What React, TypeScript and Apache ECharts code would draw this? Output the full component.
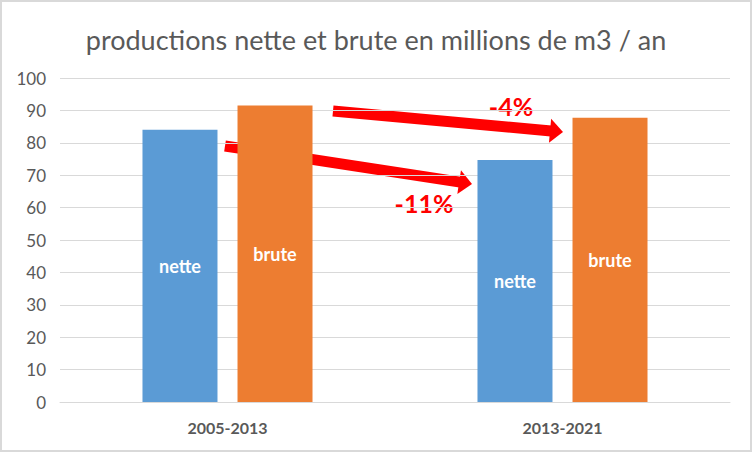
import React, { useEffect, useRef } from 'react';
import * as echarts from 'echarts';

const categories = ['2005-2013', '2013-2021'];
const netteValues = [84, 74.7];
const bruteValues = [91.5, 87.7];
const seriesNames = ['nette', 'brute'];
const changeLabels = ['-4%', '-11%'];

const FONT = "Lato, 'Liberation Sans', sans-serif";
const GREY = '#595959';
const RED = '#ff0000';

// red arrow: thick shaft line + triangular head, tip at (x2,y2)
const arrow = (x1: number, y1: number, x2: number, y2: number, shaft = 11, headW = 24, headL = 13) => {
  const dx = x2 - x1;
  const dy = y2 - y1;
  const len = Math.sqrt(dx * dx + dy * dy);
  const ux = dx / len;
  const uy = dy / len;
  const nx = -uy;
  const ny = ux;
  const bx = x2 - ux * headL;
  const by = y2 - uy * headL;
  const h = headW / 2;
  return [
    {
      type: 'line',
      shape: { x1, y1, x2: bx + ux, y2: by + uy },
      style: { stroke: RED, lineWidth: shaft, lineCap: 'butt' }
    },
    {
      type: 'polygon',
      shape: {
        points: [
          [bx + nx * h, by + ny * h],
          [x2, y2],
          [bx - nx * h, by - ny * h]
        ]
      },
      style: { fill: RED }
    }
  ];
};

const App: React.FC = () => {
  const chartRef = useRef<HTMLDivElement>(null);

  useEffect(() => {
    if (!chartRef.current) return;
    const chart = echarts.init(chartRef.current, null, { renderer: 'svg' });

    const barLabel = {
      show: true,
      position: 'inside' as const,
      formatter: '{a}',
      color: '#ffffff',
      fontWeight: 'bold' as const,
      fontSize: 18,
      fontFamily: FONT
    };

    chart.setOption({
      animation: false,
      backgroundColor: '#ffffff',
      title: {
        text: 'productions nette et brute en millions de m3 / an',
        left: 'center',
        top: 21,
        textStyle: { fontSize: 27, fontWeight: 'normal', color: GREY, fontFamily: FONT }
      },
      grid: { left: 60, right: 22, top: 78, bottom: 50 },
      xAxis: {
        type: 'category',
        data: categories,
        axisLine: { lineStyle: { color: '#d9d9d9' } },
        axisTick: { show: false },
        axisLabel: { color: GREY, fontWeight: 'bold', fontSize: 16, margin: 17, fontFamily: FONT }
      },
      yAxis: {
        type: 'value',
        min: 0,
        max: 100,
        interval: 10,
        splitLine: { lineStyle: { color: '#d9d9d9' } },
        axisLabel: { color: GREY, fontSize: 17, margin: 14, fontFamily: FONT }
      },
      series: [
        {
          name: seriesNames[0],
          type: 'bar',
          data: netteValues,
          barWidth: 75,
          barGap: '26.7%',
          itemStyle: { color: '#5b9bd5' },
          label: barLabel
        },
        {
          name: seriesNames[1],
          type: 'bar',
          data: bruteValues,
          barWidth: 75,
          itemStyle: { color: '#ed7d31' },
          label: barLabel
        }
      ],
      graphic: [
        {
          type: 'rect',
          shape: { x: 1, y: 1, width: 750, height: 450 },
          style: { fill: 'none', stroke: '#d9d9d9', lineWidth: 2 },
          silent: true
        },
        ...arrow(333, 111, 563, 132),
        ...arrow(225, 146, 472, 184),
        {
          type: 'text',
          x: 511,
          y: 106,
          style: {
            text: changeLabels[0],
            fill: RED,
            font: `bold 25px ${FONT}`,
            align: 'center',
            verticalAlign: 'middle'
          }
        },
        {
          type: 'text',
          x: 424,
          y: 203,
          style: {
            text: changeLabels[1],
            fill: RED,
            font: `bold 25px ${FONT}`,
            align: 'center',
            verticalAlign: 'middle'
          }
        }
      ]
    });

    return () => {
      chart.dispose();
    };
  }, []);

  return (
    <div
      ref={chartRef}
      style={{ position: 'fixed', left: 0, top: 0, width: 752, height: 452 }}
    ></div>
  );
};

export default App;
